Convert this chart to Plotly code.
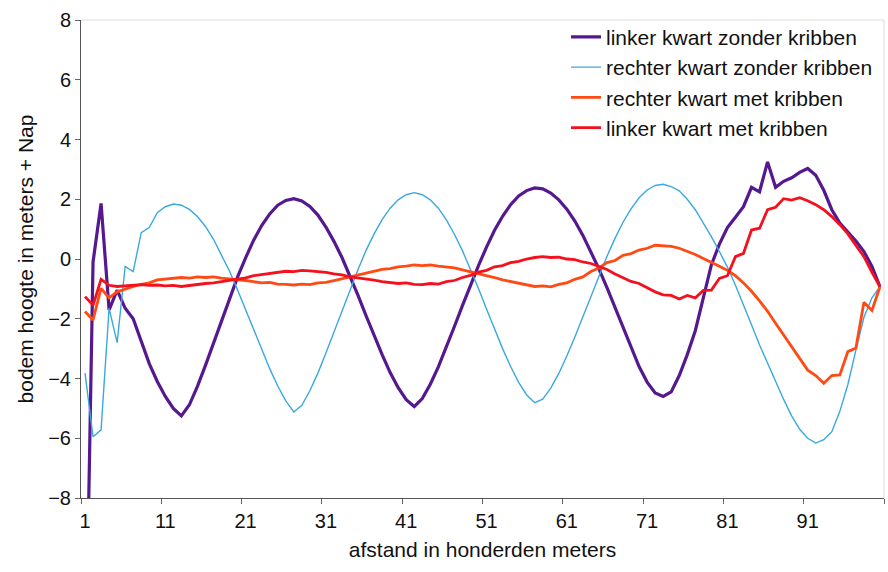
import plotly.graph_objects as go

# Distance along the river, in hundreds of metres (categories 1..100)
afstand = list(range(1, 101))

linker_zonder = [
    -15.0, -0.1, 1.86, -1.7, -1.04, -1.65, -2.0, -2.75, -3.5, -4.1,
    -4.6, -5.0, -5.25, -4.88, -4.26, -3.56, -2.81, -2.06, -1.31, -0.6,
    0.04, 0.63, 1.12, 1.51, 1.8, 1.96, 2.02, 1.94, 1.76, 1.47,
    1.07, 0.59, 0.05, -0.57, -1.22, -1.9, -2.56, -3.2, -3.8, -4.31,
    -4.71, -4.94, -4.67, -4.19, -3.61, -2.96, -2.26, -1.56, -0.87, -0.22,
    0.4, 0.96, 1.43, 1.82, 2.11, 2.29, 2.38, 2.35, 2.21, 1.98,
    1.67, 1.27, 0.79, 0.25, -0.33, -0.96, -1.61, -2.26, -2.95, -3.6,
    -4.12, -4.48, -4.6, -4.45, -3.9, -3.2, -2.4, -1.35, -0.2, 0.5,
    1.05, 1.4, 1.75, 2.4, 2.25, 3.25, 2.4, 2.6, 2.72, 2.9,
    3.03, 2.8, 2.3, 1.65, 1.2, 0.9, 0.6, 0.25, -0.25, -0.93,
]

rechter_zonder = [
    -3.82, -5.95, -5.72, -1.65, -2.8, -0.25, -0.42, 0.88, 1.05, 1.55,
    1.75, 1.84, 1.8, 1.66, 1.42, 1.09, 0.66, 0.15, -0.41, -1.04,
    -1.69, -2.36, -3.03, -3.67, -4.25, -4.75, -5.12, -4.9, -4.41, -3.82,
    -3.15, -2.45, -1.73, -1.03, -0.35, 0.29, 0.84, 1.32, 1.7, 1.98,
    2.15, 2.22, 2.15, 1.98, 1.7, 1.31, 0.83, 0.28, -0.34, -0.99,
    -1.67, -2.35, -3.0, -3.6, -4.13, -4.55, -4.81, -4.69, -4.32, -3.83,
    -3.25, -2.61, -1.93, -1.24, -0.56, 0.09, 0.69, 1.23, 1.68, 2.05,
    2.31, 2.46, 2.5, 2.42, 2.28, 2.0, 1.65, 1.2, 0.75, 0.25,
    -0.27, -0.88, -1.52, -2.2, -2.88, -3.5, -4.12, -4.7, -5.25, -5.7,
    -6.0, -6.16, -6.05, -5.78, -5.1, -4.2, -3.05, -1.95, -1.3, -0.93,
]

rechter_met = [
    -1.76, -2.04, -0.98, -1.3, -1.1, -1.0, -0.92, -0.85, -0.8, -0.7,
    -0.68, -0.65, -0.62, -0.64, -0.6, -0.62, -0.6, -0.64, -0.66, -0.7,
    -0.72, -0.76, -0.8, -0.78, -0.84, -0.85, -0.87, -0.84, -0.86, -0.8,
    -0.78, -0.72, -0.66, -0.6, -0.52, -0.48, -0.4, -0.35, -0.32, -0.26,
    -0.24, -0.2, -0.22, -0.2, -0.24, -0.26, -0.3, -0.36, -0.42, -0.5,
    -0.56, -0.62, -0.7, -0.76, -0.82, -0.88, -0.92, -0.9, -0.93, -0.85,
    -0.8, -0.68, -0.6, -0.42, -0.3, -0.12, -0.05, 0.12, 0.18, 0.3,
    0.36, 0.46, 0.45, 0.42, 0.36, 0.26, 0.15, 0.02, -0.1, -0.24,
    -0.38, -0.56, -0.8, -1.08, -1.4, -1.75, -2.15, -2.55, -2.95, -3.35,
    -3.72, -3.9, -4.16, -3.9, -3.88, -3.1, -2.98, -1.45, -1.72, -0.93,
]

linker_met = [
    -1.26, -1.55, -0.68, -0.88, -0.92, -0.9, -0.88, -0.86, -0.88, -0.87,
    -0.9, -0.88, -0.92, -0.88, -0.86, -0.82, -0.8, -0.76, -0.72, -0.66,
    -0.63, -0.56, -0.52, -0.47, -0.45, -0.41, -0.42, -0.38, -0.4, -0.42,
    -0.45, -0.5, -0.53, -0.6, -0.63, -0.68, -0.71, -0.76, -0.78, -0.82,
    -0.8, -0.85, -0.86, -0.82, -0.84, -0.76, -0.72, -0.62, -0.55, -0.44,
    -0.38, -0.26, -0.22, -0.12, -0.08, 0.0, 0.05, 0.08, 0.05, 0.06,
    0.0, -0.02, -0.1, -0.15, -0.25, -0.35, -0.5, -0.62, -0.75, -0.82,
    -0.95, -1.1, -1.2, -1.22, -1.34, -1.22, -1.3, -1.05, -1.04, -0.65,
    -0.56, 0.08, 0.19, 0.97, 1.03, 1.65, 1.73, 2.02, 1.97, 2.05,
    1.95, 1.82, 1.65, 1.42, 1.15, 0.84, 0.45, 0.08, -0.45, -0.93,
]

tick_labels = ["1", "11", "21", "31", "41", "51", "61", "71", "81", "91"]

FONT = "Liberation Sans, Arial, sans-serif"

fig = go.Figure()
fig.add_trace(go.Scatter(x=afstand, y=linker_zonder, mode="lines",
                         name="linker kwart zonder kribben",
                         line=dict(color="#55188f", width=3.2)))
fig.add_trace(go.Scatter(x=afstand, y=rechter_zonder, mode="lines",
                         name="rechter kwart zonder kribben",
                         line=dict(color="#3aa8de", width=1.4)))
fig.add_trace(go.Scatter(x=afstand, y=rechter_met, mode="lines",
                         name="rechter kwart met kribben",
                         line=dict(color="#ff4a14", width=2.8)))
fig.add_trace(go.Scatter(x=afstand, y=linker_met, mode="lines",
                         name="linker kwart met kribben",
                         line=dict(color="#f5101e", width=2.8)))

# Tick marks sit on the category boundaries, labels on the category centres
fig.update_xaxes(
    range=[0.5, 100.5],
    tickmode="array",
    tickvals=[0.5 + 10 * k for k in range(11)],
    ticktext=tick_labels + [""],
    ticklabelshift=4,
    ticks="outside", ticklen=5, tickcolor="#666",
    showline=True, linecolor="#555", linewidth=1,
    showgrid=False, zeroline=False,
    tickfont=dict(family=FONT, size=20, color="#111"),
    title=dict(text="afstand in honderden meters",
               font=dict(family=FONT, size=21, color="#111"), standoff=11),
)
fig.update_yaxes(
    range=[-8, 8], dtick=2, tick0=-8,
    ticks="outside", ticklen=5, tickcolor="#666",
    showline=True, linecolor="#555", linewidth=1,
    showgrid=False, zeroline=False,
    tickfont=dict(family=FONT, size=20, color="#111"),
    title=dict(text="bodem hoogte in meters + Nap",
               font=dict(family=FONT, size=21, color="#111"), standoff=8),
)

# faint plot-area frame on the top and right
fig.add_shape(type="line", xref="paper", yref="paper", x0=0, x1=1, y0=1, y1=1,
              line=dict(color="#dcdcdc", width=1))
fig.add_shape(type="line", xref="paper", yref="paper", x0=1, x1=1, y0=0, y1=1,
              line=dict(color="#dcdcdc", width=1))

fig.update_layout(
    width=888, height=572,
    margin=dict(l=81, r=4, t=20, b=74, autoexpand=False),
    paper_bgcolor="white", plot_bgcolor="white",
    font=dict(family=FONT, size=20, color="#111"),
    legend=dict(x=0.604, y=1.007, xanchor="left", yanchor="top",
                bgcolor="rgba(255,255,255,0)", borderwidth=0,
                font=dict(family=FONT, size=21, color="#111"),
                itemwidth=30, tracegroupgap=0),
    showlegend=True,
)

fig.write_html("out.html")
